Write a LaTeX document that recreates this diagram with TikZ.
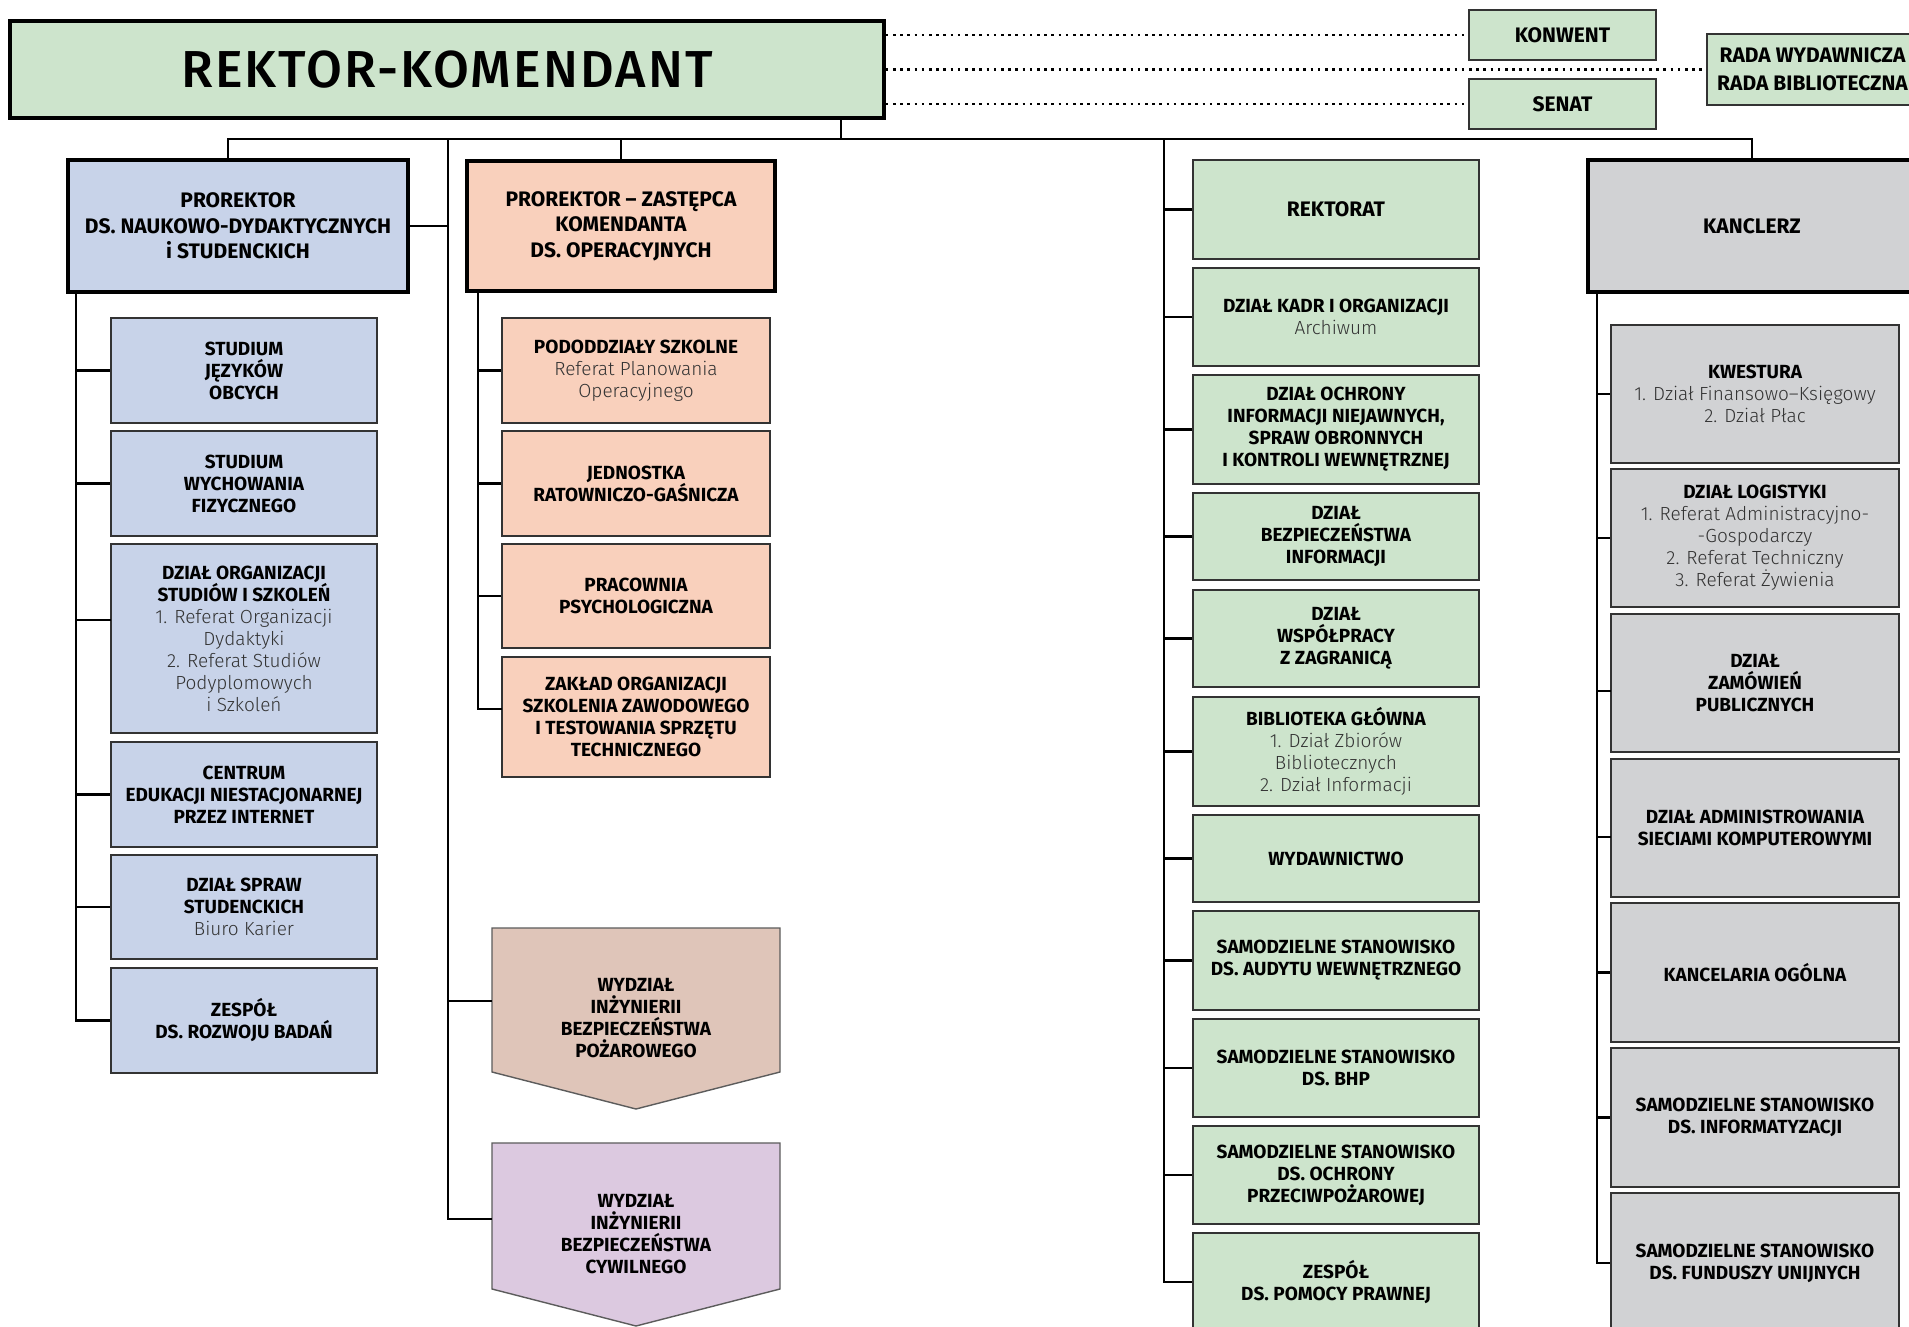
\documentclass[tikz,border=0pt]{standalone}
\usepackage{fontspec}
\setmainfont{Fira Sans}
\newfontfamily\lightf{Fira Sans Light}
\newfontfamily\medf{Fira Sans Medium}[LetterSpace=4]
\definecolor{gr}{HTML}{CDE4CC}
\definecolor{bl}{HTML}{C8D3E9}
\definecolor{orr}{HTML}{F9D0BC}
\definecolor{brn}{HTML}{DFC5B9}
\definecolor{pu}{HTML}{DCC9E0}
\definecolor{gy}{HTML}{D1D2D4}
\definecolor{edge}{HTML}{333333}
\definecolor{lt}{HTML}{333333}
\newcommand\lite[1]{{\lightf\mdseries\color{lt}#1}}
\newcommand\bx[7]{%
  \pgfmathsetmacro\bxcx{(#2+#4)/2}\pgfmathsetmacro\bxcy{(#3+#5)/2}%
  \pgfmathsetmacro\bxw{#4-#2}\pgfmathsetmacro\bxh{#5-#3}%
  \node[#6, minimum width=\bxw pt, minimum height=\bxh pt] (#1) at (\bxcx,\bxcy) {#7};}
\tikzset{
  base/.style={rectangle, align=center, inner sep=1pt, font=\fontsize{19}{22}\selectfont\bfseries, text=black},
  thinbox/.style={base, draw=edge, line width=1.6pt},
  thickbox/.style={base, draw=black, line width=3.6pt, font=\fontsize{21}{25.5}\selectfont\bfseries},
  conn/.style={line width=2.8pt, black},
  dotl/.style={line width=2.6pt, dash pattern=on 2.6pt off 4.6pt, black},
  facshape/.style={draw=edge!80, line width=1.4pt},
}
\begin{document}
\begin{tikzpicture}[x=1pt,y=-1pt]
\useasboundingbox (0,0) rectangle (1909,1327);
\fill[white] (0,0) rectangle (1909,1327);
\clip (0,0) rectangle (1909,1327);

% top level
\bx{rk}{10}{21}{884}{118}{thickbox, fill=gr, font=\fontsize{52}{60}\medf}{REKTOR-KOMENDANT}
\bx{kon}{1469}{10}{1656}{60}{thinbox, fill=gr, font=\fontsize{21}{25}\selectfont\bfseries}{KONWENT}
\bx{sen}{1469}{79}{1656}{129}{thinbox, fill=gr, font=\fontsize{21}{25}\selectfont\bfseries}{SENAT}
\bx{rada}{1707}{34}{1990}{105}{thinbox, fill=gr}{}
\node[anchor=west, align=center, inner sep=0pt, font=\fontsize{21}{28}\selectfont\bfseries] (radat) at (1717,69.5) {RADA WYDAWNICZA\\RADA BIBLIOTECZNA};

\draw[dotl] (rk.east |- kon.west) -- (kon.west);
\draw[dotl] (rk.east |- rada.west) -- (rada.west);
\draw[dotl] (rk.east |- sen.west) -- (sen.west);

% second level
\bx{p1}{68}{160}{408}{292}{thickbox, fill=bl}{PROREKTOR\\DS. NAUKOWO-DYDAKTYCZNYCH\\i STUDENCKICH}
\bx{p2}{467}{161}{775}{291}{thickbox, fill=orr}{PROREKTOR – ZASTĘPCA\\KOMENDANTA\\DS. OPERACYJNYCH}
\bx{k}{1588}{160}{1916}{292}{thickbox, fill=gy}{KANCLERZ}

% blue column
\bx{sj}{111}{318}{377}{423}{thinbox, fill=bl}{STUDIUM\\JĘZYKÓW\\OBCYCH}
\bx{swf}{111}{431}{377}{536}{thinbox, fill=bl}{STUDIUM\\WYCHOWANIA\\FIZYCZNEGO}
\bx{dzo}{111}{544}{377}{733}{thinbox, fill=bl}{DZIAŁ ORGANIZACJI\\STUDIÓW I SZKOLEŃ\\\lite{1. Referat Organizacji}\\\lite{Dydaktyki}\\\lite{2. Referat Studiów}\\\lite{Podyplomowych}\\\lite{i Szkoleń}}
\bx{cen}{111}{742}{377}{847}{thinbox, fill=bl}{CENTRUM\\EDUKACJI NIESTACJONARNEJ\\PRZEZ INTERNET}
\bx{dss}{111}{855}{377}{959}{thinbox, fill=bl}{DZIAŁ SPRAW\\STUDENCKICH\\\lite{Biuro Karier}}
\bx{zrb}{111}{968}{377}{1073}{thinbox, fill=bl}{ZESPÓŁ\\DS. ROZWOJU BADAŃ}

% orange column
\bx{pod}{502}{318}{770}{423}{thinbox, fill=orr}{PODODDZIAŁY SZKOLNE\\\lite{Referat Planowania}\\\lite{Operacyjnego}}
\bx{jrg}{502}{431}{770}{536}{thinbox, fill=orr}{JEDNOSTKA\\RATOWNICZO-GAŚNICZA}
\bx{pps}{502}{544}{770}{648}{thinbox, fill=orr}{PRACOWNIA\\PSYCHOLOGICZNA}
\bx{zak}{502}{657}{770}{777}{thinbox, fill=orr}{ZAKŁAD ORGANIZACJI\\SZKOLENIA ZAWODOWEGO\\I TESTOWANIA SPRZĘTU\\TECHNICZNEGO}

% faculties
\draw[facshape, fill=brn] (492,928) -- (780,928) -- (780,1072) -- (636,1109) -- (492,1072) -- cycle;
\node[base] (w1) at (636,1018) {WYDZIAŁ\\INŻYNIERII\\BEZPIECZEŃSTWA\\POŻAROWEGO};
\draw[facshape, fill=pu] (492,1143) -- (780,1143) -- (780,1289) -- (636,1326) -- (492,1289) -- cycle;
\node[base] (w2) at (636,1234) {WYDZIAŁ\\INŻYNIERII\\BEZPIECZEŃSTWA\\CYWILNEGO};
\coordinate (w1c) at (492,1001);
\coordinate (w2c) at (492,1219);

% green column
\bx{rt}{1193}{160}{1479}{259}{thinbox, fill=gr, font=\fontsize{21}{25}\selectfont\bfseries}{REKTORAT}
\bx{dk}{1193}{268}{1479}{366}{thinbox, fill=gr}{DZIAŁ KADR I ORGANIZACJI\\\lite{Archiwum}}
\bx{doc}{1193}{375}{1479}{484}{thinbox, fill=gr}{DZIAŁ OCHRONY\\INFORMACJI NIEJAWNYCH,\\SPRAW OBRONNYCH\\I KONTROLI WEWNĘTRZNEJ}
\bx{dbi}{1193}{493}{1479}{580}{thinbox, fill=gr}{DZIAŁ\\BEZPIECZEŃSTWA\\INFORMACJI}
\bx{dwz}{1193}{590}{1479}{687}{thinbox, fill=gr}{DZIAŁ\\WSPÓŁPRACY\\Z ZAGRANICĄ}
\bx{bg}{1193}{697}{1479}{806}{thinbox, fill=gr}{BIBLIOTEKA GŁÓWNA\\\lite{1. Dział Zbiorów}\\\lite{Bibliotecznych}\\\lite{2. Dział Informacji}}
\bx{wyd}{1193}{815}{1479}{902}{thinbox, fill=gr}{WYDAWNICTWO}
\bx{sau}{1193}{911}{1479}{1010}{thinbox, fill=gr}{SAMODZIELNE STANOWISKO\\DS. AUDYTU WEWNĘTRZNEGO}
\bx{sbhp}{1193}{1019}{1479}{1117}{thinbox, fill=gr}{SAMODZIELNE STANOWISKO\\DS. BHP}
\bx{sop}{1193}{1126}{1479}{1224}{thinbox, fill=gr}{SAMODZIELNE STANOWISKO\\DS. OCHRONY\\PRZECIWPOŻAROWEJ}
\bx{zpp}{1193}{1233}{1479}{1331}{thinbox, fill=gr}{ZESPÓŁ\\DS. POMOCY PRAWNEJ}

% gray column
\bx{kw}{1611}{325}{1899}{463}{thinbox, fill=gy}{KWESTURA\\\lite{1. Dział Finansowo–Księgowy}\\\lite{2. Dział Płac}}
\bx{dl}{1611}{469}{1899}{607}{thinbox, fill=gy}{DZIAŁ LOGISTYKI\\\lite{1. Referat Administracyjno-}\\\lite{-Gospodarczy}\\\lite{2. Referat Techniczny}\\\lite{3. Referat Żywienia}}
\bx{dzp}{1611}{614}{1899}{752}{thinbox, fill=gy}{DZIAŁ\\ZAMÓWIEŃ\\PUBLICZNYCH}
\bx{das}{1611}{759}{1899}{897}{thinbox, fill=gy}{DZIAŁ ADMINISTROWANIA\\SIECIAMI KOMPUTEROWYMI}
\bx{kog}{1611}{903}{1899}{1042}{thinbox, fill=gy}{KANCELARIA OGÓLNA}
\bx{sin}{1611}{1048}{1899}{1187}{thinbox, fill=gy}{SAMODZIELNE STANOWISKO\\DS. INFORMATYZACJI}
\bx{sfu}{1611}{1193}{1899}{1333}{thinbox, fill=gy}{SAMODZIELNE STANOWISKO\\DS. FUNDUSZY UNIJNYCH}

% bus
\coordinate (b1) at (228,139);
\coordinate (b2) at (1752,139);
\coordinate (rkc) at (841,139);
\coordinate (t2) at (448,139);
\coordinate (t3) at (1164,139);
\draw[conn] (b1 |- p1.north) -- (b1) -- (b2) -- (b2 |- k.north);
\draw[conn] (rk.south -| rkc) -- (rkc);
\draw[conn] (p2.north) -- (p2.north |- b1);

% faculties trunk
\draw[conn] (p1.east) -- (p1.east -| t2);
\draw[conn] (t2) |- (w2c);
\draw[conn] (t2 |- w1c) -- (w1c);

% blue subtree
\coordinate (t1) at (76,0);
\coordinate (dzoc) at (111,620);
\draw[conn] (t1 |- p1.south) |- (zrb.west);
\draw[conn] (t1 |- sj.west) -- (sj.west);
\draw[conn] (t1 |- swf.west) -- (swf.west);
\draw[conn] (t1 |- dzoc) -- (dzoc);
\draw[conn] (t1 |- cen.west) -- (cen.west);
\draw[conn] (t1 |- dss.west) -- (dss.west);

% orange subtree
\coordinate (t5) at (478,0);
\coordinate (zakc) at (502,709);
\draw[conn] (t5 |- p2.south) |- (zakc);
\draw[conn] (t5 |- pod.west) -- (pod.west);
\draw[conn] (t5 |- jrg.west) -- (jrg.west);
\draw[conn] (t5 |- pps.west) -- (pps.west);

% green subtree
\draw[conn] (t3) |- (zpp.west);
\foreach \n in {rt,dk,doc,dbi,dwz,bg,wyd,sau,sbhp,sop}{
  \draw[conn] (t3 |- \n.west) -- (\n.west);
}

% gray subtree
\coordinate (t4) at (1597,0);
\coordinate (dzpc) at (1611,691);
\coordinate (dasc) at (1611,837);
\draw[conn] (t4 |- k.south) |- (sfu.west);
\draw[conn] (t4 |- kw.west) -- (kw.west);
\draw[conn] (t4 |- dl.west) -- (dl.west);
\draw[conn] (t4 |- dzpc) -- (dzpc);
\draw[conn] (t4 |- dasc) -- (dasc);
\draw[conn] (t4 |- kog.west) -- (kog.west);
\draw[conn] (t4 |- sin.west) -- (sin.west);
\end{tikzpicture}
\end{document}
